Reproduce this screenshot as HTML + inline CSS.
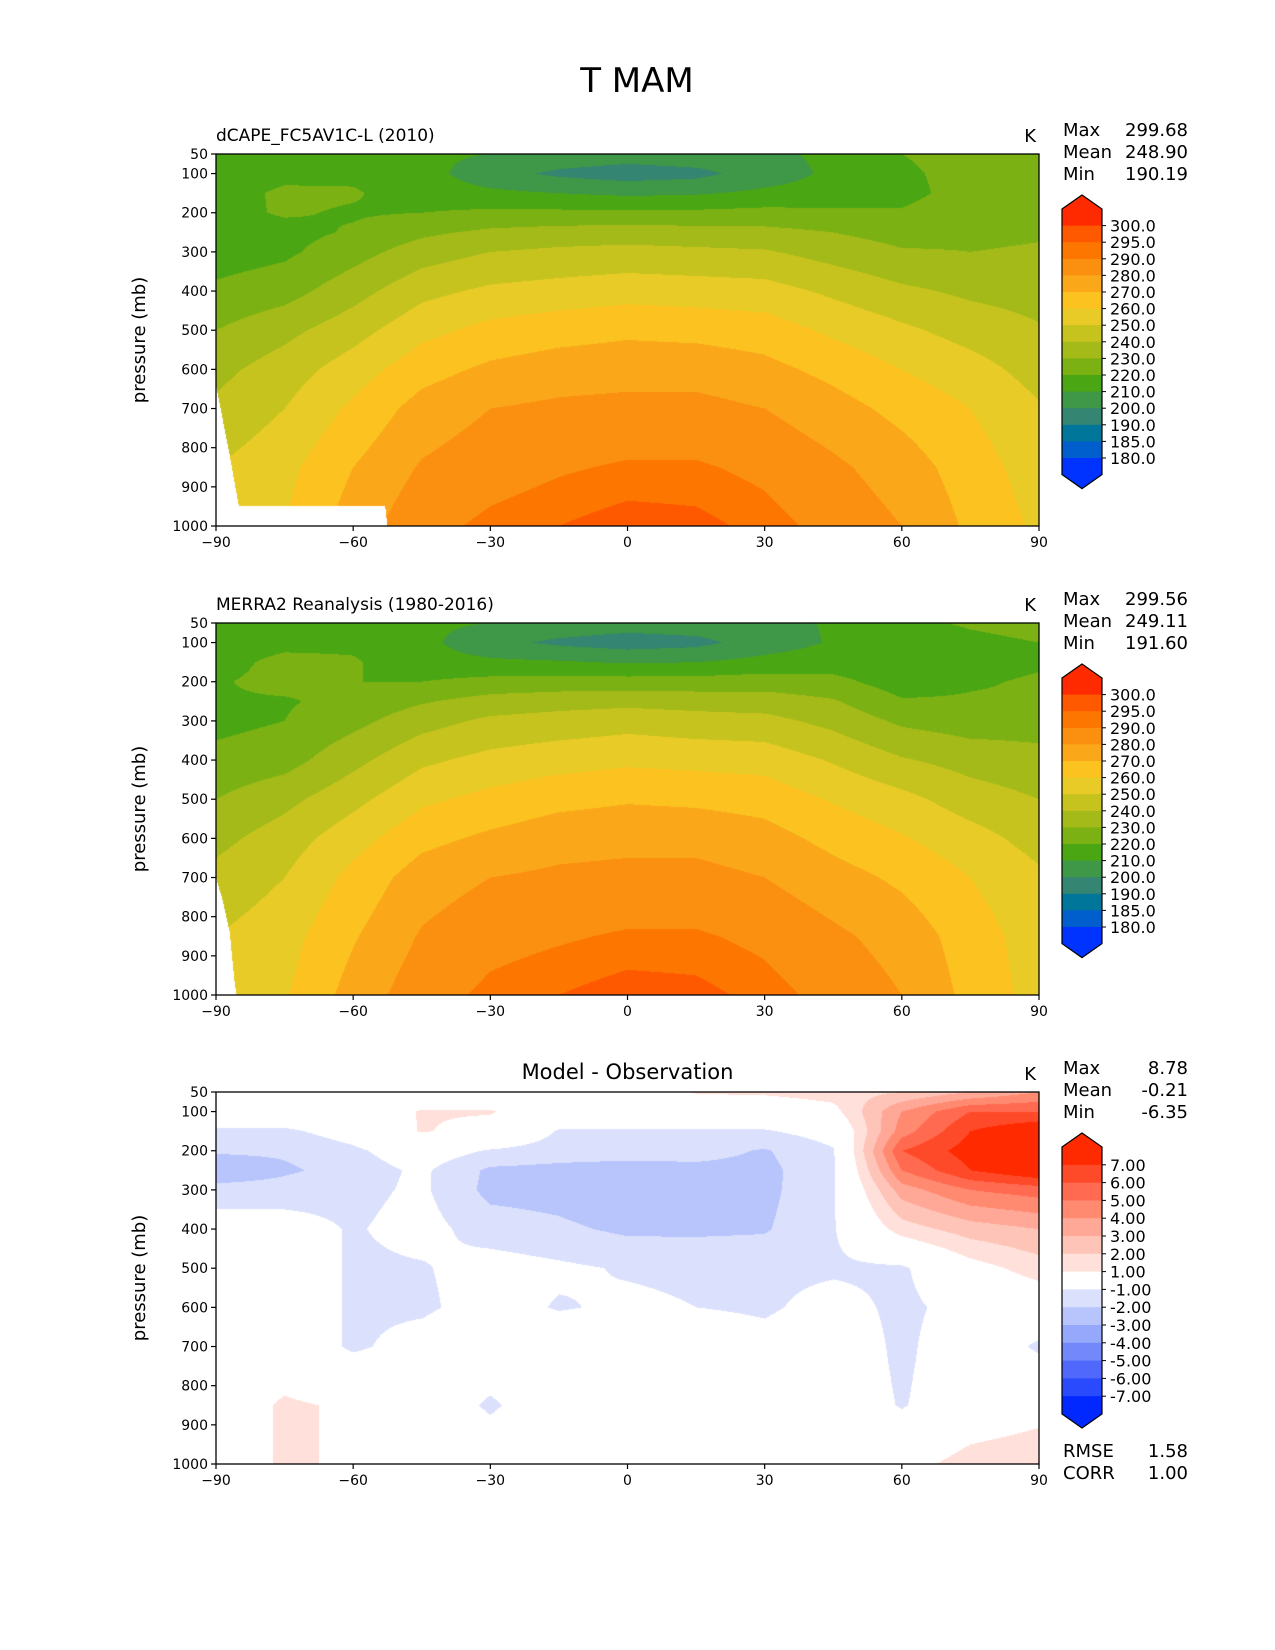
<!DOCTYPE html>
<html><head><meta charset="utf-8">
<style>
html,body{margin:0;padding:0;background:#fff;}
#root{position:relative;width:1275px;height:1650px;overflow:hidden;font-family:"DejaVu Sans","Liberation Sans",sans-serif;}
canvas{position:absolute;}
svg{position:absolute;left:0;top:0;}
</style></head>
<body>
<div id="root">
<canvas id="c1" width="823" height="372" style="left:216px;top:154px"></canvas>
<canvas id="c2" width="823" height="372" style="left:216px;top:623px"></canvas>
<canvas id="c3" width="823" height="372" style="left:216px;top:1092px"></canvas>
<svg id="ov" width="1275" height="1650"></svg>
</div>
<script>
// ---- data ----
const lats = [-90,-75,-60,-45,-30,-15,0,15,30,45,60,75,90];
const pres = [50,100,150,200,250,300,400,500,600,700,850,1000];
const modelT = [
[212,214,215,217,216,215,222,230,237,242,250,255],
[212,217,222,221,217,218,226,237,245,250,257,260],
[214,218,221,219,221,226,236,246,255,262,270,275],
[212,214,215,220,228,235,247,257,266,274,281,287],
[210,204,212,222,232,240,252,263,272,280,286,292],
[207,198,210,222,234,242,254,266,275,282,289,295],
[205,195,208,222,235,243,256,268,276,283,291,298],
[207,197,209,222,234,242,255,267,276,283,291,297],
[208,205,212,223,233,241,254,265,273,280,288,293],
[212,212,214,222,230,236,248,258,267,274,282,287],
[220,218,217,221,226,231,242,252,260,267,275,280],
[224,224,224,226,228,230,238,246,254,260,265,268],
[227,226,227,229,229,231,236,241,246,251,255,258]];
const obsT = [
[212,214,216,219,219,217,223,230,237,243,250,255],
[212,217,223,223,219,220,226,237,245,250,256,259],
[214,218,221,220,223,227,237,247,256,263,269,274],
[212,213,214,220,229,236,248,258,267,275,281,286],
[210,203,212,223,234,242,253,263,272,280,287,292],
[207,198,211,224,236,244,256,267,276,282,289,295],
[205,195,209,224,237,246,258,269,277,283,291,298],
[206,197,210,224,236,244,257,268,277,283,291,297],
[207,205,213,225,235,243,256,266,274,280,288,293],
[211,211,215,223,231,237,249,259,267,274,282,287],
[218,214,213,215,221,228,241,253,261,268,276,280],
[221,218,217,219,221,225,236,245,254,260,265,267],
[223,220,219,221,221,226,233,240,246,252,255,256]];
const diffT = [
[0,0,-1.2,-1.8,-3,-1.5,-0.5,0,0,0,0,0],
[0,0,-1.2,-1.8,-2.2,-1.5,-0.5,0,0,0,1.2,1.2],
[0,0,-0.5,-1.2,-1.5,-1.3,-1.1,-1.2,-1.2,-1.2,0.8,0.8],
[0,1.1,1.1,-0.3,-0.8,-0.8,-0.6,-1.1,-1.2,-0.5,0,0.6],
[0,1.1,0.5,-1.1,-2.2,-2.3,-1.5,-0.5,-0.5,0,-1.2,0],
[0,0,-1.1,-1.5,-2.3,-2.4,-1.8,-0.8,-1.1,0,0,0],
[0,0,-1.1,-1.6,-2.4,-2.8,-2.2,-1.1,-0.8,0,0,0],
[1.1,0,-1.1,-1.6,-2.3,-2.3,-2.2,-1.2,-1.0,0,0,0],
[1.2,0,-1.1,-2.1,-2.3,-2.3,-2.1,-1.3,-1.2,-0.5,0,0],
[1.5,0.6,-0.5,-1.1,-1.2,-1.1,-1.1,-1.2,-0.5,0,0,0],
[2,4,4.5,6,5,3.5,1.5,-1.2,-1.3,-1.3,-1.1,0.5],
[3,6,7,7.5,7,5,2.5,0.5,-0.5,0,0,1.5],
[4,6,8,8.5,8,5.5,3,1.5,0,-1.2,0.5,1.8]];
const modelMaskLat = [-90,-87,-85,-53,-52.5,90];
const modelMaskP = [640,820,950,950,1000,1000];
const obsMaskLat = [-90,-88.5,-87,-86,-85.5,90];
const obsMaskP = [700,760,840,960,1000,1000];
const tLevels = [180,185,190,200,210,220,230,240,250,260,270,280,290,295,300];
const tColors = ['#0033ff','#005fcc','#00779a','#348572','#3f9748','#4ba614','#7bb113','#a3ba18','#c7c31e','#e8cb26','#fbc220','#fba71a','#fb9010','#fd7600','#ff5900','#ff2a00'];
const dLevels = [-7,-6,-5,-4,-3,-2,-1,1,2,3,4,5,6,7];
const dColors = ['#0028ff','#2a4afd','#5068fc','#7388fb','#96a8fb','#b8c4fc','#dbe1fc','#ffffff','#ffe0da','#ffc4b8','#ffa898','#ff8a70','#ff6a50','#ff4a2a','#ff2a00'];
const tLabels = ['300.0','295.0','290.0','280.0','270.0','260.0','250.0','240.0','230.0','220.0','210.0','200.0','190.0','185.0','180.0'];
const dLabels = ['7.00','6.00','5.00','4.00','3.00','2.00','1.00','-1.00','-2.00','-3.00','-4.00','-5.00','-6.00','-7.00'];
const xTicks = [-90,-60,-30,0,30,60,90];
const yTicks = [50,100,200,300,400,500,600,700,800,900,1000];

// ---- helpers ----
const W=823,H=372,X0=216;
const tops=[154,623,1092];
function xOf(lat){return X0+(lat+90)/180*W;}
function yOf(p,top){return top+(p-50)/950*H;}
function idx(arr,v){let i=0;while(i<arr.length-2&&v>arr[i+1])i++;const t=(v-arr[i])/(arr[i+1]-arr[i]);return [i,Math.max(0,Math.min(1,t))];}
function interp(grid,lat,p){const [i,a]=idx(lats,lat);const [j,b]=idx(pres,p);
 const v00=grid[i][j],v01=grid[i][j+1],v10=grid[i+1][j],v11=grid[i+1][j+1];
 return (v00*(1-b)+v01*b)*(1-a)+(v10*(1-b)+v11*b)*a;}
function lin(xs,ys,x){const [i,t]=idx(xs,x);return ys[i]+(ys[i+1]-ys[i])*t;}
function hex(c){return [parseInt(c.substr(1,2),16),parseInt(c.substr(3,2),16),parseInt(c.substr(5,2),16)];}
function colorFor(v,levels,colors){let k=0;while(k<levels.length&&v>=levels[k])k++;return colors[k];}
function draw(id,grid,levels,colors,mLat,mP){
 const cv=document.getElementById(id),ctx=cv.getContext('2d');const im=ctx.createImageData(W,H);
 const rgb=colors.map(hex);
 for(let x=0;x<W;x++){const lat=-90+180*(x+0.5)/W;const ps=mLat?lin(mLat,mP,lat):2000;
  for(let y=0;y<H;y++){const p=50+950*(y+0.5)/H;const o=(y*W+x)*4;
   let c=[255,255,255];
   if(p<=ps){const v=interp(grid,lat,p);let k=0;while(k<levels.length&&v>=levels[k])k++;c=rgb[k];}
   im.data[o]=c[0];im.data[o+1]=c[1];im.data[o+2]=c[2];im.data[o+3]=255;}}
 ctx.putImageData(im,0,0);}
draw('c1',modelT,tLevels,tColors,modelMaskLat,modelMaskP);
draw('c2',obsT,tLevels,tColors,obsMaskLat,obsMaskP);
draw('c3',diffT,dLevels,dColors,null,null);

// ---- svg overlay ----
const NS='http://www.w3.org/2000/svg',svg=document.getElementById('ov');
function el(tag,attrs,parent){const e=document.createElementNS(NS,tag);for(const k in attrs)e.setAttribute(k,attrs[k]);(parent||svg).appendChild(e);return e;}
function txt(s,x,y,size,anchor,parent){const t=el('text',{x:x,y:y,'font-size':size,'text-anchor':anchor||'start',fill:'#000','font-family':'DejaVu Sans, Liberation Sans, sans-serif'},parent);t.textContent=s;return t;}

const title=txt('T MAM',637,92,34,'middle');



const panels=[
 {sub:'dCAPE_FC5AV1C-L (2010)',stats:[['Max','299.68'],['Mean','248.90'],['Min','190.19']],cb:'t',name:'model'},
 {sub:'MERRA2 Reanalysis (1980-2016)',stats:[['Max','299.56'],['Mean','249.11'],['Min','191.60']],cb:'t',name:'obs'},
 {sub:'Model - Observation',stats:[['Max','8.78'],['Mean','-0.21'],['Min','-6.35']],cb:'d',name:'diff'}];

panels.forEach((pn,i)=>{
 const top=tops[i];
 const g=el('g',{});
 
 
 el('rect',{x:X0,y:top,width:W,height:H,fill:'none',stroke:'#000','stroke-width':1.3},g);
 xTicks.forEach(v=>{const x=xOf(v);el('line',{x1:x,y1:top+H,x2:x,y2:top+H+5,stroke:'#000','stroke-width':1.2},g);
  const t=txt((v<0?'\u2212'+(-v):String(v)),x,top+H+21,14,'middle',g);
  
  });
 yTicks.forEach(v=>{const y=yOf(v,top);el('line',{x1:X0-5,y1:y,x2:X0,y2:y,stroke:'#000','stroke-width':1.2},g);
  const t=txt(String(v),X0-8,y+5,14,'end',g);
  
  });
 const yl=txt('pressure (mb)',0,0,18,'middle',g);
 yl.setAttribute('transform','translate(145,'+(top+H/2)+') rotate(-90)');
 
 
 let st;
 if(i<2){st=txt(pn.sub,X0,top-13,17,'start',g);}else{st=txt(pn.sub,X0+W/2,top-13,21,'middle',g);}
 
 
 const k=txt('K',1036,top-12,18,'end',g);
 
 
 pn.stats.forEach((s,j)=>{const y=top-18+j*22;
  const a=txt(s[0],1063,y,18,'start',g);
  const b=txt(s[1],1188,y,18,'end',g);});
 // colorbar
 const cbg=el('g',{},g);
 
 
 const cx0=1062,cx1=1102,cxm=1082;
 const cols=pn.cb==='t'?tColors.slice().reverse():dColors.slice().reverse();
 const labs=pn.cb==='t'?tLabels:dLabels;
 const tipTop=top+41, rTop=top+55, bh=pn.cb==='t'?16.6:17.8;
 const rBot=rTop+cols.length*bh;
 el('polygon',{points:`${cx0},${rTop} ${cxm},${tipTop} ${cx1},${rTop}`,fill:cols[0]},cbg);
 el('polygon',{points:`${cx0},${rBot} ${cxm},${rBot+14} ${cx1},${rBot}`,fill:cols[cols.length-1]},cbg);
 cols.forEach((c,j)=>{el('rect',{x:cx0,y:rTop+j*bh,width:cx1-cx0,height:bh+0.5,fill:c},cbg);});
 el('polygon',{points:`${cx0},${rTop} ${cxm},${tipTop} ${cx1},${rTop} ${cx1},${rBot} ${cxm},${rBot+14} ${cx0},${rBot}`,fill:'none',stroke:'#000','stroke-width':1.2},cbg);
 labs.forEach((l,j)=>{const y=rTop+(j+1)*bh;el('line',{x1:cx1,y1:y,x2:cx1+4,y2:y,stroke:'#000'},cbg);
  const t=txt(l,cx1+8,y+6,16,'start',cbg);});
 if(i===2){
  [['RMSE','1.58'],['CORR','1.00']].forEach((s,j)=>{const y=1457+j*22;
   const a=txt(s[0],1063,y,18,'start',g);
   const b=txt(s[1],1188,y,18,'end',g);});
 }
});
</script>
</body></html>
